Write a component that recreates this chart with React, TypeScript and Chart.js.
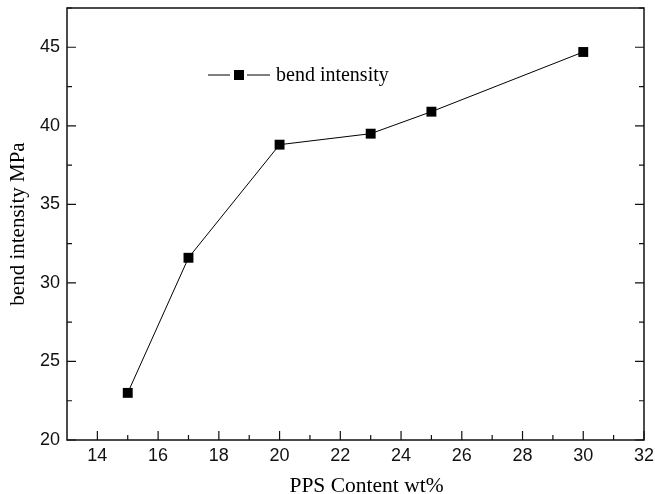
import React, { useEffect, useRef } from "react";
import { Chart, registerables } from "chart.js";

Chart.register(...registerables);

const ppsContent = [15, 17, 20, 23, 25, 30];
const bendIntensity = [23.0, 31.6, 38.8, 39.5, 40.9, 44.7];
const xTickValues = [14, 16, 18, 20, 22, 24, 26, 28, 30, 32];
const xMinorValues = [15, 17, 19, 21, 23, 25, 27, 29, 31];
const yTickValues = [20, 25, 30, 35, 40, 45];
const yMinorValues = [22.5, 27.5, 32.5, 37.5, 42.5, 47.5];
const seriesName = "bend intensity";
const xTitle = "PPS Content wt%";
const yTitle = "bend intensity MPa";

const SERIF = "'Liberation Serif', 'Times New Roman', serif";
const SANS = "'Liberation Sans', Arial, sans-serif";

const framePlugin = {
  id: "frameAndTicks",
  afterDraw(chart: any) {
    const { ctx, chartArea } = chart;
    const xs = chart.scales.x;
    const ys = chart.scales.y;
    const { left, right, top, bottom } = chartArea;
    ctx.save();
    ctx.strokeStyle = "#111";
    ctx.lineWidth = 1.5;
    ctx.strokeRect(left, top, right - left, bottom - top);
    ctx.lineWidth = 1.2;
    ctx.beginPath();
    xTickValues.forEach((v) => {
      const px = xs.getPixelForValue(v);
      ctx.moveTo(px, bottom);
      ctx.lineTo(px, bottom - 9);
    });
    xMinorValues.forEach((v) => {
      const px = xs.getPixelForValue(v);
      ctx.moveTo(px, bottom);
      ctx.lineTo(px, bottom - 5);
    });
    yTickValues.forEach((v) => {
      const py = ys.getPixelForValue(v);
      ctx.moveTo(left, py);
      ctx.lineTo(left + 9, py);
      ctx.moveTo(right, py);
      ctx.lineTo(right - 9, py);
    });
    yMinorValues.forEach((v) => {
      const py = ys.getPixelForValue(v);
      ctx.moveTo(left, py);
      ctx.lineTo(left + 5, py);
      ctx.moveTo(right, py);
      ctx.lineTo(right - 5, py);
    });
    ctx.stroke();

    // legend
    const ly = 75;
    ctx.strokeStyle = "#000";
    ctx.lineWidth = 1;
    ctx.beginPath();
    ctx.moveTo(208, ly);
    ctx.lineTo(230, ly);
    ctx.moveTo(247, ly);
    ctx.lineTo(270, ly);
    ctx.stroke();
    ctx.fillStyle = "#000";
    ctx.fillRect(234, ly - 5, 10, 10);
    ctx.font = `20px ${SERIF}`;
    ctx.textBaseline = "middle";
    ctx.textAlign = "left";
    ctx.fillText(seriesName, 276, ly + 1);

    // x axis title
    ctx.font = `21.5px ${SERIF}`;
    ctx.textBaseline = "alphabetic";
    ctx.textAlign = "center";
    ctx.fillText(xTitle, 366.5, 492);
    ctx.restore();
  },
};

export default function App() {
  const ref = useRef<HTMLCanvasElement | null>(null);
  useEffect(() => {
    if (!ref.current) return;
    const chart = new Chart(ref.current, {
      type: "line",
      data: {
        datasets: [
          {
            label: seriesName,
            data: ppsContent.map((x, i) => ({ x, y: bendIntensity[i] })),
            borderColor: "#000",
            borderWidth: 1,
            backgroundColor: "#000",
            pointStyle: "rect",
            pointRadius: 7,
            pointBorderWidth: 0,
            tension: 0,
          },
        ],
      },
      options: {
        animation: false,
        responsive: false,
        devicePixelRatio: 1,
        layout: { padding: { top: 8, right: 11, left: 0, bottom: 0 } },
        plugins: { legend: { display: false }, tooltip: { enabled: false } },
        scales: {
          x: {
            type: "linear",
            min: 13,
            max: 32,
            afterBuildTicks: (s: any) => {
              s.ticks = xTickValues.map((v) => ({ value: v }));
            },
            afterFit: (s: any) => {
              s.height = 54;
              s.paddingLeft = 0;
              s.paddingRight = 0;
            },
            grid: { display: false, drawTicks: false },
            border: { display: false },
            ticks: {
              color: "#111",
              font: { family: SANS, size: 18 },
              padding: 5,
              maxRotation: 0,
              autoSkip: false,
            },
            title: { display: false },
          },
          y: {
            type: "linear",
            min: 20,
            max: 47.5,
            afterBuildTicks: (s: any) => {
              s.ticks = yTickValues.map((v) => ({ value: v }));
            },
            afterFit: (s: any) => {
              s.width = 67;
              s.paddingTop = 0;
              s.paddingBottom = 0;
            },
            grid: { display: false, drawTicks: false },
            border: { display: false },
            ticks: {
              color: "#111",
              font: { family: SANS, size: 18 },
              padding: 7,
            },
            title: {
              display: true,
              text: yTitle,
              color: "#000",
              font: { family: SERIF, size: 21, lineHeight: 1 },
              padding: { top: 7.5, bottom: 0 },
            },
          },
        },
      },
      plugins: [framePlugin],
    });
    return () => chart.destroy();
  }, []);
  return (
    <div style={{ position: "fixed", left: 0, top: 0, width: 655, height: 494, background: "#fff" }}>
      <canvas ref={ref} width={655} height={494} />
    </div>
  );
}
